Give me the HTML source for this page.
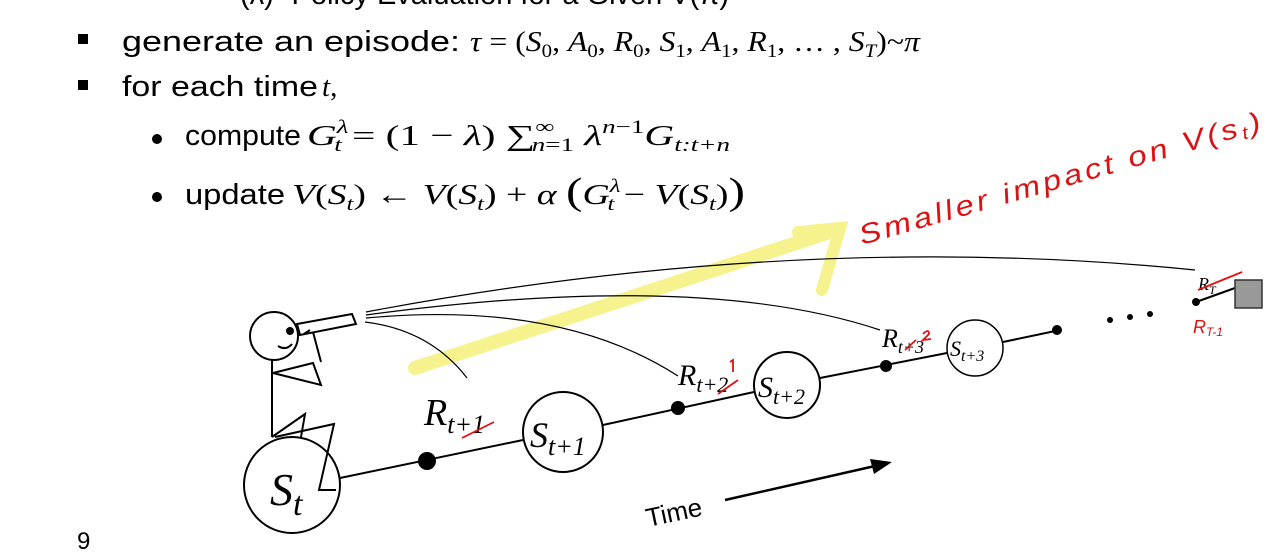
<!DOCTYPE html>
<html><head><meta charset="utf-8"><style>
html,body{margin:0;padding:0;background:#fff;width:1280px;height:554px;overflow:hidden}
svg{display:block}
.t{font-family:"Liberation Sans",sans-serif;font-size:29px;fill:#000}
.m{font-family:"Liberation Serif",serif;font-size:29px;fill:#000}
.s{font-family:"Liberation Serif",serif;font-style:italic;fill:#000}
.h{font-family:"Liberation Sans",sans-serif;fill:#d11;font-style:italic}
i{font-style:italic}
</style></head><body>
<svg width="1280" height="554" viewBox="0 0 1280 554" xmlns="http://www.w3.org/2000/svg">
<text x="240" y="4" class="t">(λ) -Policy Evaluation for a Given V(π)</text>
<rect x="78" y="34" width="10" height="10" fill="#000"/>
<text x="122" y="51" class="t" textLength="338" lengthAdjust="spacingAndGlyphs">generate an episode:</text>
<text x="470" y="51" class="m" textLength="450" lengthAdjust="spacingAndGlyphs"><tspan font-style="italic">τ</tspan> = (<tspan font-style="italic">S</tspan><tspan font-size="19" dy="6">0</tspan><tspan dy="-6">, </tspan><tspan font-style="italic">A</tspan><tspan font-size="19" dy="6">0</tspan><tspan dy="-6">, </tspan><tspan font-style="italic">R</tspan><tspan font-size="19" dy="6">0</tspan><tspan dy="-6">, </tspan><tspan font-style="italic">S</tspan><tspan font-size="19" dy="6">1</tspan><tspan dy="-6">, </tspan><tspan font-style="italic">A</tspan><tspan font-size="19" dy="6">1</tspan><tspan dy="-6">, </tspan><tspan font-style="italic">R</tspan><tspan font-size="19" dy="6">1</tspan><tspan dy="-6">, … , </tspan><tspan font-style="italic">S</tspan><tspan font-size="19" font-style="italic" dy="6">T</tspan><tspan dy="-6">)~</tspan><tspan font-style="italic">π</tspan></text>
<rect x="78" y="80" width="10" height="10" fill="#000"/>
<text x="122" y="96" class="t" textLength="196" lengthAdjust="spacingAndGlyphs">for each time</text>
<text x="322" y="96" class="m"><tspan font-style="italic">t</tspan>,</text>
<circle cx="157" cy="139" r="5" fill="#000"/>
<text x="185" y="145" class="t" textLength="116" lengthAdjust="spacingAndGlyphs">compute</text>
<text x="307" y="145" class="m" textLength="423" lengthAdjust="spacingAndGlyphs"><tspan font-style="italic">G</tspan><tspan font-size="19" font-style="italic" dy="-12">λ</tspan><tspan font-size="19" font-style="italic" dx="-10" dy="18">t</tspan><tspan dy="-6"> = (1 − </tspan><tspan font-style="italic">λ</tspan>) ∑<tspan font-size="19" dy="-12">∞</tspan><tspan font-size="19" font-style="italic" dx="-16" dy="18">n</tspan><tspan font-size="19" dy="0">=1</tspan><tspan font-style="italic" dy="-6"> λ</tspan><tspan font-size="19" font-style="italic" dy="-12">n</tspan><tspan font-size="19" dy="0">−1</tspan><tspan font-style="italic" dy="12">G</tspan><tspan font-size="19" font-style="italic" dy="6">t:t+n</tspan></text>
<circle cx="157" cy="197" r="5" fill="#000"/>
<text x="185" y="204" class="t" textLength="100" lengthAdjust="spacingAndGlyphs">update</text>
<text x="292" y="204" class="m" textLength="453" lengthAdjust="spacingAndGlyphs"><tspan font-style="italic">V</tspan>(<tspan font-style="italic">S</tspan><tspan font-size="19" font-style="italic" dy="6">t</tspan><tspan dy="-6">) ← </tspan><tspan font-style="italic">V</tspan>(<tspan font-style="italic">S</tspan><tspan font-size="19" font-style="italic" dy="6">t</tspan><tspan dy="-6">) + </tspan><tspan font-style="italic">α</tspan> <tspan font-size="38">(</tspan><tspan font-style="italic">G</tspan><tspan font-size="19" font-style="italic" dy="-12">λ</tspan><tspan font-size="19" font-style="italic" dx="-10" dy="18">t</tspan><tspan dy="-6"> − </tspan><tspan font-style="italic">V</tspan>(<tspan font-style="italic">S</tspan><tspan font-size="19" font-style="italic" dy="6">t</tspan><tspan dy="-6">)</tspan><tspan font-size="38">)</tspan></text>

<g stroke="#f5f07a" stroke-linecap="round" fill="none" opacity="0.85">
<path d="M415 368 L830 232" stroke-width="14"/>
<path d="M798 232 L840 228 L822 290" stroke-width="12"/>
</g>

<text x="862" y="245" class="h" font-size="28" letter-spacing="3" transform="rotate(-16 862 245)" textLength="420" lengthAdjust="spacingAndGlyphs">Smaller impact on V(s<tspan font-size="18" dy="4">t</tspan><tspan dy="-4">)</tspan></text>

<g stroke="#000" fill="none" stroke-width="1.2">
<path d="M365 322 Q430 330 467 378"/>
<path d="M366 318 Q560 300 678 376"/>
<path d="M366 315 Q700 270 880 330"/>
<path d="M366 312 Q800 230 1195 270"/>
</g>

<g stroke="#000" fill="none" stroke-width="2">
<path d="M340 478 L523 440"/>
<path d="M603 425 L754 392"/>
<path d="M820 378 L947 353"/>
<path d="M1003 342 L1060 330"/>
<path d="M1196 302 L1235 288"/>
<circle cx="292" cy="485" r="48"/>
<circle cx="563" cy="432" r="40"/>
<circle cx="787" cy="385" r="33"/>
<circle cx="975" cy="348" r="28" stroke-width="1.5"/>
</g>
<g fill="#000">
<circle cx="427" cy="461" r="9"/>
<circle cx="678" cy="408" r="7"/>
<circle cx="886" cy="366" r="6"/>
<circle cx="1057" cy="330" r="5"/>
<circle cx="1110" cy="320" r="3"/><circle cx="1130" cy="317" r="3"/><circle cx="1150" cy="314" r="3"/>
<circle cx="1196" cy="302" r="4"/>
</g>
<rect x="1235" y="280" width="27" height="28" fill="#999" stroke="#333" stroke-width="1.5"/>

<text x="270" y="505" class="s" font-size="46">S<tspan font-size="34" dy="10">t</tspan></text>
<text x="530" y="447" class="s" font-size="36">S<tspan font-size="26" dy="8">t+1</tspan></text>
<text x="758" y="397" class="s" font-size="30">S<tspan font-size="22" dy="7">t+2</tspan></text>
<text x="950" y="356" class="s" font-size="22">S<tspan font-size="16" dy="5">t+3</tspan></text>
<text x="424" y="425" class="s" font-size="38">R<tspan font-size="26" dy="8">t+1</tspan></text>
<text x="678" y="385" class="s" font-size="30">R<tspan font-size="22" dy="7">t+2</tspan></text>
<text x="882" y="347" class="s" font-size="26">R<tspan font-size="18" dy="6">t+3</tspan></text>
<text x="1198" y="290" class="s" font-size="18">R<tspan font-size="12" dy="4">T</tspan></text>
<g stroke="#d11" fill="none" stroke-width="1.8">
<path d="M462 438 L494 422"/><path d="M718 394 L738 380"/><path d="M905 350 L916 340"/><path d="M1198 290 L1242 272"/>
<path d="M730 362 l3 -2 l0 12"/><path d="M923 334 q6 -6 6 0 l-6 6 l8 -1"/>
</g>
<text x="1193" y="333" class="h" font-size="18">R<tspan font-size="12" dy="3">T-1</tspan></text>

<g stroke="#000" fill="none" stroke-width="2">
<circle cx="274" cy="336" r="24"/>
<path d="M278 346 q8 5 14 -2"/>
<path d="M297 324 L352 314 L356 324 L300 335 Z"/>
<path d="M304 334 L310 330"/>
<path d="M272 360 L272 437"/>
<path d="M273 373 L313 363 L321 385 L273 373"/>
<path d="M313 332 L321 362"/>
<path d="M272 437 L305 414 L301 437"/>
<path d="M275 437 L334 424 L319 490 L336 490"/>
</g>
<circle cx="290" cy="331" r="4" fill="#000"/>

<text x="648" y="527" font-family="Liberation Sans,sans-serif" font-size="26" transform="rotate(-12 648 527)">Time</text>
<path d="M725 500 L875 466" stroke="#000" stroke-width="2.5"/>
<path d="M892 462 L870 459 L874 474 Z" fill="#000"/>

<text x="77" y="549" font-family="Liberation Sans,sans-serif" font-size="24">9</text>
</svg>
</body></html>
